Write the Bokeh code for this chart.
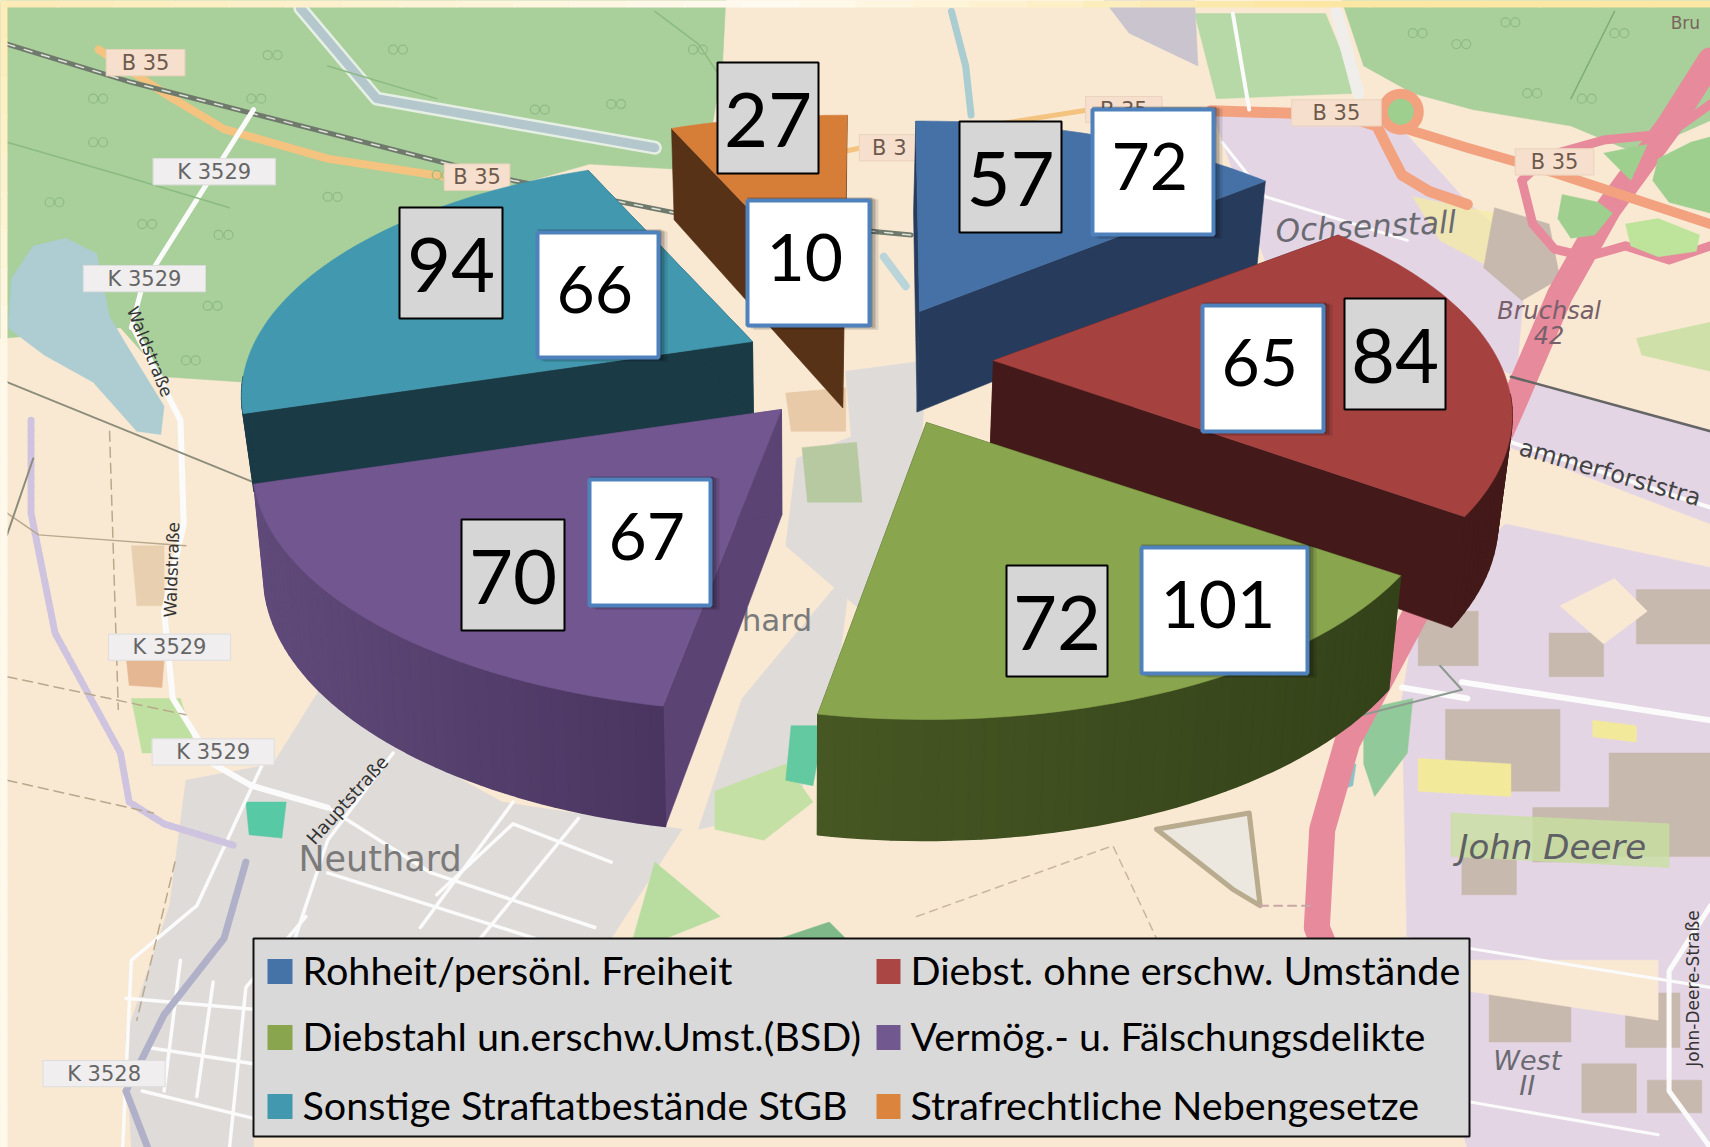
import math
from bokeh.plotting import figure
from bokeh.models import Range1d
from bokeh.core.properties import value
from bokeh.embed import file_html
from bokeh.resources import INLINE

categories = ["Rohheit/persönl. Freiheit", "Diebst. ohne erschw. Umstände",
              "Diebstahl un.erschw.Umst.(BSD)", "Vermög.- u. Fälschungsdelikte",
              "Sonstige Straftatbestände StGB", "Strafrechtliche Nebengesetze"]
grey_values = [57, 84, 72, 70, 94, 27]
white_values = [72, 65, 101, 67, 66, 10]

colors = ["#4572a7", "#aa4643", "#89a54e", "#71588f", "#4198af", "#db843d"]
top_colors = ["#4571a6", "#a54240", "#89a54e", "#71568f", "#4198af", "#d67d38"]
cut_colors = ["#273c5c", "#431a19", "#37451a", "#5b4373", "#1a3a46", "#583216"]
wall_left = ["#273c5c", "#431a19", "#465723", "#604a7a", "#1a3a46", "#583216"]
wall_right = ["#273c5c", "#431a19", "#34421a", "#4a3560", "#1a3a46", "#583216"]
apex = [(919, 311), (993, 360), (926, 422), (781, 409), (752, 341), (843, 307)]
radius_scale = [1.02, 1.0, 1.0, 1.02, 0.985, 1.03]
depth_scale = [1.0, 1.0, 1.0, 1.0, 0.74, 1.0]
angle_tweak = [-1.0, 0.0, -0.7, 0.0, 0.0, 0.0]
grey_boxes = [(959, 121, 1061, 232), (1344, 298, 1445, 409), (1006, 565, 1107, 676),
              (461, 519, 564, 630), (399, 207, 502, 318), (717, 62, 818, 173)]
white_boxes = [(1092, 109, 1213, 234), (1202, 305, 1323, 431), (1141, 547, 1307, 673),
               (589, 479, 710, 605), (537, 232, 658, 357), (747, 200, 869, 325)]

R, K, A, START = 505.0, 0.454, 0.228, 0.5
M = 1710 / 1568

p = figure(width=1710, height=1147, x_range=Range1d(0, 1710), y_range=Range1d(1147, 0),
           output_backend="svg", toolbar_location=None, min_border=0,
           background_fill_color="#f9e9d3", outline_line_color=None)
p.xaxis.visible = False
p.yaxis.visible = False
p.grid.visible = False


def poly(c, color, alpha=1.0):
    p.patch([q[0] * M for q in c], [q[1] * M for q in c], fill_color=color, line_color=color,
            line_width=0.5, fill_alpha=alpha, line_alpha=alpha)


def road(c, color, w, dash="solid", alpha=1.0):
    p.line([q[0] * M for q in c], [q[1] * M for q in c], line_color=color, line_width=w,
           line_dash=dash, line_alpha=alpha, line_join="round", line_cap="round")


def label(x, y, t, size=17, color="#5c5c5c", angle=0, style="normal", font="DejaVu Sans"):
    p.text([x * M], [y * M], text=[t], text_font=value(font), text_font_size=value(f"{size}px"),
           text_color=color, text_align="center", text_baseline="middle",
           angle=math.radians(angle), text_font_style=style)


def plate(x, y, t, w=70, fill="#f0eeee", line="#dddddd", color="#666666"):
    hw, hh = w / 2, 12
    poly([(x - hw, y - hh), (x + hw, y - hh), (x + hw, y + hh), (x - hw, y + hh)], fill)
    road([(x - hw, y - hh), (x + hw, y - hh), (x + hw, y + hh), (x - hw, y + hh), (x - hw, y - hh)], line, 1)
    label(x, y, t, 21, color)


def mix(a, b, f):
    ca = [int(a[i:i + 2], 16) for i in (1, 3, 5)]
    cb = [int(b[i:i + 2], 16) for i in (1, 3, 5)]
    return "#%02x%02x%02x" % tuple(round(u + (v - u) * f) for u, v in zip(ca, cb))


# ---- background map (decoration only) ----
GREEN = "#a9cf9b"
LILAC = "#e4d5e5"
BROWN = "#c7b9ad"
TOWN = "#dfdbd9"
BEIGE = "#f9e9d3"

poly([(0, 0), (665, 0), (662, 60), (650, 130), (625, 155), (540, 150), (400, 190), (240, 300),
      (225, 350), (150, 345), (110, 300), (0, 310)], GREEN)
poly([(1230, 0), (1568, 0), (1568, 110), (1500, 140), (1440, 115), (1350, 100), (1295, 85), (1250, 60)], GREEN)
poly([(1095, 12), (1215, 12), (1245, 85), (1115, 90)], "#b7d9a8")
poly([(1012, 0), (1095, 0), (1098, 60), (1035, 30)], "#c9c4ce")
poly([(1110, 100), (1280, 112), (1345, 185), (1400, 230), (1390, 345), (1160, 240)], LILAC)
poly([(1295, 180), (1345, 190), (1420, 205), (1395, 260), (1320, 220)], "#f5eca0", 0.7)
poly([(1370, 190), (1420, 205), (1430, 255), (1395, 275), (1360, 245)], BROWN)
poly([(1500, 310), (1568, 295), (1568, 340), (1505, 325)], "#cfe0a8")
poly([(1385, 345), (1568, 395), (1568, 480), (1385, 410)], LILAC)
poly([(1300, 550), (1380, 480), (1568, 520), (1568, 1052), (1345, 1052), (1290, 880), (1285, 640)], LILAC)

# lake
poly([(10, 255), (30, 225), (60, 218), (88, 232), (100, 290), (118, 320), (150, 372), (147, 398),
      (125, 395), (85, 350), (40, 325), (7, 300)], "#adcdd2")

# town Neuthard
poly([(170, 715), (250, 700), (300, 620), (360, 680), (460, 735), (625, 760), (560, 860), (232, 860),
      (232, 1052), (120, 1052), (115, 950), (155, 830)], TOWN)
poly([(680, 640), (780, 520), (770, 600), (730, 740), (640, 760)], TOWN)
poly([(775, 340), (850, 330), (845, 395), (790, 560), (720, 500), (730, 420), (780, 400)], TOWN)
poly([(735, 410), (785, 405), (790, 460), (740, 460)], "#b6c9a0")
poly([(720, 360), (775, 355), (775, 395), (725, 395)], "#e8c9a8")

# small green / field patches
poly([(225, 735), (262, 735), (258, 768), (228, 765)], "#57c9a5")
poly([(655, 725), (720, 700), (745, 735), (700, 770), (655, 760)], "#c4e0a5")
poly([(725, 665), (755, 665), (745, 720), (720, 715)], "#62c9a0")
poly([(600, 790), (660, 840), (610, 860), (580, 860)], "#b9dca0")
poly([(715, 860), (760, 845), (775, 860)], "#7fb98a")
poly([(120, 640), (165, 640), (180, 690), (130, 690)], "#bfe0a0")
poly([(120, 500), (150, 500), (150, 555), (125, 555)], "#e8cfb0")
poly([(115, 600), (150, 605), (148, 630), (118, 628)], "#e5b793")

# triangular pond site near the motorway
poly([(1060, 760), (1145, 745), (1155, 830), (1130, 815)], "#ece8df")
road([(1060, 760), (1145, 745), (1155, 830), (1130, 815), (1060, 760)], "#b8ab8e", 5)

# John Deere buildings
for b in [(1325, 650, 1430, 725), (1405, 740, 1475, 790), (1475, 690, 1568, 785), (1340, 770, 1390, 820),
          (1420, 580, 1470, 620), (1300, 560, 1355, 610), (1500, 540, 1568, 590), (1365, 905, 1440, 955),
          (1490, 910, 1540, 960), (1450, 975, 1500, 1020), (1510, 990, 1560, 1020)]:
    poly([(b[0], b[1]), (b[2], b[1]), (b[2], b[3]), (b[0], b[3])], BROWN)
poly([(1290, 880), (1520, 880), (1520, 935), (1290, 900)], BEIGE)
poly([(1430, 555), (1480, 530), (1510, 560), (1470, 590)], BEIGE)
poly([(1300, 695), (1385, 700), (1385, 730), (1300, 725)], "#f3e99b")
poly([(1460, 660), (1500, 665), (1500, 680), (1460, 675)], "#f3e99b")
poly([(1330, 745), (1530, 755), (1530, 795), (1330, 785)], "#c8e0a0", 0.8)
poly([(1250, 650), (1295, 640), (1290, 690), (1260, 730), (1250, 700)], "#92c99a")
poly([(1225, 705), (1243, 700), (1240, 720), (1225, 725)], "#8fc0c4")

# motorway + interchange
MW = "#e68a9c"
road([(1568, 55), (1530, 115), (1475, 190), (1430, 270), (1385, 375), (1320, 520), (1235, 680),
      (1212, 760), (1207, 850), (1215, 870)], MW, 26)
road([(1395, 165), (1420, 142), (1470, 128), (1530, 122), (1568, 95)], MW, 9)
road([(1395, 165), (1405, 205), (1425, 228), (1455, 235), (1490, 225), (1530, 238), (1568, 225)], MW, 9)
poly([(1432, 178), (1465, 185), (1478, 195), (1462, 215), (1440, 218), (1428, 200)], "#9ecf8f")
poly([(1490, 205), (1520, 200), (1558, 215), (1555, 230), (1520, 235), (1495, 225)], "#bde49a")
poly([(1520, 145), (1550, 130), (1568, 125), (1568, 195), (1530, 185), (1515, 165)], "#9ecf8f")
poly([(1470, 140), (1510, 132), (1495, 165)], "#9ecf8f")

# B 35 roads
road([(1110, 101), (1230, 105), (1262, 115), (1272, 135), (1285, 160), (1310, 175), (1345, 187)], "#f2a27f", 11)
p.scatter([1284 * M], [102 * M], size=36, marker="circle", fill_color="#9ecf8f", line_color="#f2a27f", line_width=10)
road([(1290, 118), (1345, 135), (1425, 158), (1568, 205)], "#f2a27f", 10)
road([(90, 45), (150, 85), (205, 118), (300, 145), (430, 165)], "#f3c37f", 8)
road([(775, 138), (840, 125), (1000, 100), (1100, 100)], "#f3c37f", 5)
# railway and canal
road([(6, 40), (120, 75), (470, 165), (620, 195), (835, 215)], "#6f7a6c", 5)
road([(6, 40), (120, 75), (470, 165), (620, 195), (835, 215)], "#dfe3d8", 1.5, "8 10")
road([(275, 7), (345, 90), (600, 135)], "#e6efe4", 14)
road([(275, 7), (345, 90), (600, 135)], "#b3c7cd", 9)
road([(872, 10), (885, 60), (890, 105)], "#a9cdd0", 7)
road([(810, 235), (830, 262)], "#b9d5d9", 8)
# white minor roads
W = "#fbfbfb"
road([(232, 100), (130, 262), (120, 300)], W, 5)
road([(122, 300), (165, 385), (168, 480), (150, 560), (158, 640), (195, 700), (230, 720), (300, 740)], W, 6)
road([(1120, 130), (1160, 180), (1290, 220)], W, 3)
road([(1130, 12), (1145, 100)], W, 4)
road([(1225, 10), (1245, 85)], "#f0eeea", 12)
road([(1340, 625), (1568, 660)], W, 6)
road([(1285, 630), (1345, 640)], W, 6)
road([(1290, 860), (1568, 905)], W, 3)
road([(1290, 1000), (1520, 1040)], W, 3)
road([(1568, 830), (1530, 890), (1530, 1000), (1568, 1052)], W, 5)
road([(1385, 345), (1568, 395)], "#666666", 2.5)
road([(1385, 405), (1568, 465)], W, 4)
# town roads
for c in [[(245, 690), (180, 830), (120, 880), (112, 1052)], [(280, 840), (225, 905), (210, 1052)],
          [(300, 740), (395, 800), (545, 850)], [(360, 690), (300, 770), (270, 860)],
          [(470, 735), (385, 850)], [(530, 750), (440, 860)], [(300, 800), (490, 860)],
          [(115, 915), (232, 925)], [(135, 960), (232, 975)], [(130, 1000), (232, 1025)],
          [(165, 880), (150, 1000)], [(195, 900), (180, 1005)], [(400, 820), (470, 755), (560, 790)]]:
    road(c, W, 3.5)
# streams and field paths
S = "#cfc4df"
road([(28, 385), (28, 470), (50, 580), (110, 690), (118, 735), (150, 755), (215, 775)], S, 7, "4 3")
road([(225, 790), (205, 860), (150, 930), (115, 1000), (135, 1052)], "#b0b0c8", 7)
road([(6, 470), (35, 490), (170, 500)], "#b8a88c", 1.5)
road([(100, 395), (108, 650)], "#b8a88c", 1.5, "10 6")
road([(6, 350), (240, 445)], "#8d8d7b", 2)
road([(30, 420), (6, 490)], "#8d8d7b", 2)
road([(6, 620), (170, 655)], "#b8a88c", 1.5, "10 6")
road([(6, 715), (140, 745)], "#b8a88c", 1.5, "10 6")
road([(160, 790), (125, 935)], "#b8a88c", 1.5, "10 6")
road([(1320, 610), (1340, 632), (1210, 665)], "#8d9a8f", 2)
road([(840, 840), (1020, 775), (1060, 860)], "#c9b6a0", 1.5, "8 6")
road([(1155, 830), (1205, 830)], "#c9a6a8", 2, "8 6")
road([(1480, 10), (1440, 90)], "#7fae72", 1.5)
road([(600, 10), (640, 40), (660, 70)], "#8bbb7e", 1.5)
road([(6, 130), (110, 160), (210, 190)], "#8bbb7e", 1.5)
road([(300, 60), (400, 90)], "#8bbb7e", 1.5)

# forest tree marks
tree_x = [85, 245, 360, 490, 560, 635, 45, 85, 200, 300, 400, 230, 130, 190, 170, 1335, 1400, 1450, 1295, 1380, 1480]
tree_y = [90, 50, 45, 100, 95, 45, 185, 130, 215, 180, 160, 90, 205, 280, 330, 40, 85, 90, 30, 20, 30]
p.scatter([v * M for v in tree_x], [v * M for v in tree_y], size=9, marker="circle", fill_color=None,
          line_color="#8fbb82", line_width=1.2)
p.scatter([(v + 9) * M for v in tree_x], [v * M for v in tree_y], size=9, marker="circle", fill_color=None,
          line_color="#8fbb82", line_width=1.2)

# map labels
for x, y, t, w in [(133, 57, "B 35", 72), (1225, 103, "B 35", 82), (1425, 148, "B 35", 72)]:
    plate(x, y, t, w, "#f6e0cd", "#ead3bd", "#6e5a4d")
for x, y, t in [(196, 157, "K 3529"), (132, 255, "K 3529"), (155, 593, "K 3529"), (195, 689, "K 3529"), (95, 984, "K 3528")]:
    plate(x, y, t, 112)
plate(815, 135, "B 3", 55, "#f6e0cd", "#ead3bd", "#6e5a4d")
plate(1030, 100, "B 35", 70, "#f6e0cd", "#ead3bd", "#6e5a4d")
plate(437, 162, "B 35", 60, "#f6e0cd", "#ead3bd", "#6e5a4d")
label(1545, 21, "Bru", 17, "#77665c")
label(1252, 207, "Ochsenstall", 31, "#6a6a72", 3, "italic")
label(1420, 285, "Bruchsal", 24, "#77606a", 0, "italic")
label(1420, 307, "42", 24, "#77606a", 0, "italic")
label(1476, 433, "ammerforststra", 24, "#444444", -16)
label(712, 568, "hard", 31, "#7a7a7a")
label(348, 787, "Neuthard", 35, "#7a7a7a")
label(1423, 776, "John Deere", 34, "#5f5f66", 0, "italic")
label(1400, 972, "West", 27, "#6a6a72", 0, "italic")
label(1400, 995, "II", 27, "#6a6a72", 0, "italic")
label(137, 322, "Waldstraße", 17, "#333333", -68)
label(157, 522, "Waldstraße", 17, "#333333", 88)
label(318, 733, "Hauptstraße", 18, "#333333", 48)
label(1552, 906, "John-Deere-Straße", 17, "#333333", 90)

# pale frame of the source slide (top and left)
steps = 30
for j in range(steps):
    x0, x1 = 1710 * j / steps, 1710 * (j + 1) / steps
    f = j / (steps - 1)
    c = mix("#fdeab6", "#fffbf2", f * 2.2) if f < 0.45 else mix("#fffbf2", "#fbe6a4", (f - 0.45) / 0.3 if f < 0.75 else 1)
    p.quad(left=[x0], right=[x1 + 1], top=[0], bottom=[7], fill_color=c, line_color=None)
    y0, y1 = 1147 * j / steps, 1147 * (j + 1) / steps
    p.quad(left=[0], right=[7], top=[y0], bottom=[y1 + 1], fill_color=mix("#ffecb8", "#fff9ec", min(f * 3, 1)), line_color=None)


# ---- exploded 3-D pie, drawn from grey_values ----
def project(ap, deg, rs):
    t = math.radians(deg)
    c, s = math.cos(t), math.sin(t)
    sc = 1 / (1 + A * c)
    return ap[0] + R * rs * s * sc, ap[1] - R * rs * K * c * sc


def drop(pt, ds):
    x, y = pt
    return x - (x - 800) * 0.02, y + (85 + 0.05 * y) * ds


def face(pts, color, lw=0.6):
    p.patch([q[0] for q in pts], [q[1] for q in pts], fill_color=color, line_color=color, line_width=lw)


total = sum(grey_values)
bounds = [START]
for v in grey_values:
    bounds.append(bounds[-1] + v / total * 360)

for i in [5, 0, 4, 1, 3, 2]:
    a0, a1 = bounds[i] + angle_tweak[i], bounds[i + 1] + angle_tweak[i]
    ap = apex[i]
    ds = depth_scale[i]
    n = 48
    angles = [a0 + (a1 - a0) * j / n for j in range(n + 1)]
    rim = [project(ap, a, radius_scale[i]) for a in angles]
    for e in (rim[0], rim[-1]):
        face([ap, e, drop(e, ds), drop(ap, ds)], cut_colors[i])
    xs = [q[0] for q in rim]
    xmin, xmax = min(xs), max(xs)
    for j in range(n):
        if math.cos(math.radians((angles[j] + angles[j + 1]) / 2)) > -0.15:
            continue
        f = ((rim[j][0] + rim[j + 1][0]) / 2 - xmin) / max(xmax - xmin, 1)
        face([rim[j], rim[j + 1], drop(rim[j + 1], ds), drop(rim[j], ds)], mix(wall_left[i], wall_right[i], f), 1.6)
    face([ap] + rim, top_colors[i])


# ---- data labels ----
def box(b, fill, line, lw):
    p.quad(left=[b[0]], right=[b[2]], top=[b[1]], bottom=[b[3]], fill_color=fill, line_color=line, line_width=lw)


for b in white_boxes:
    for off, al in ((9, 0.10), (6, 0.18), (3, 0.25)):
        p.quad(left=[b[0] + off - 3], right=[b[2] + off], top=[b[1] - 4 + off / 3], bottom=[b[3] + off / 2],
               fill_color="#000000", fill_alpha=al, line_color=None)

for i in range(6):
    g, w = grey_boxes[i], white_boxes[i]
    box(g, "#d6d6d6", "#000000", 2)
    p.text([(g[0] + g[2]) / 2], [(g[1] + g[3]) / 2 + 2], text=[str(grey_values[i])], text_font=value("Lato"),
           text_font_size=value("76px"), text_color="#000000", text_align="center", text_baseline="middle")
    box(w, "#ffffff", "#4f81bd", 4)
    p.text([w[0] + 19], [(w[1] + w[3]) / 2 - 6], text=[str(white_values[i])], text_font=value("Lato"),
           text_font_size=value("66px"), text_color="#000000", text_align="left", text_baseline="middle")

# ---- legend ----
p.quad(left=[253], right=[1469], top=[938], bottom=[1136], fill_color="#d9d9d9", line_color="#111111", line_width=2)
rows = [971, 1037, 1106]
cols = [(267, 292, 302), (876, 900, 910)]
for i, cat in enumerate(categories):
    c = cols[i % 2]
    y = rows[i // 2]
    p.quad(left=[c[0]], right=[c[1]], top=[y - 12.5], bottom=[y + 12.5], fill_color=colors[i], line_color=None)
    p.text([c[2]], [y - 2], text=[cat], text_font=value("Lato"), text_font_size=value("39.5px"),
           text_color="#000000", text_align="left", text_baseline="middle")

open("out.html", "w").write(file_html(p, INLINE))
